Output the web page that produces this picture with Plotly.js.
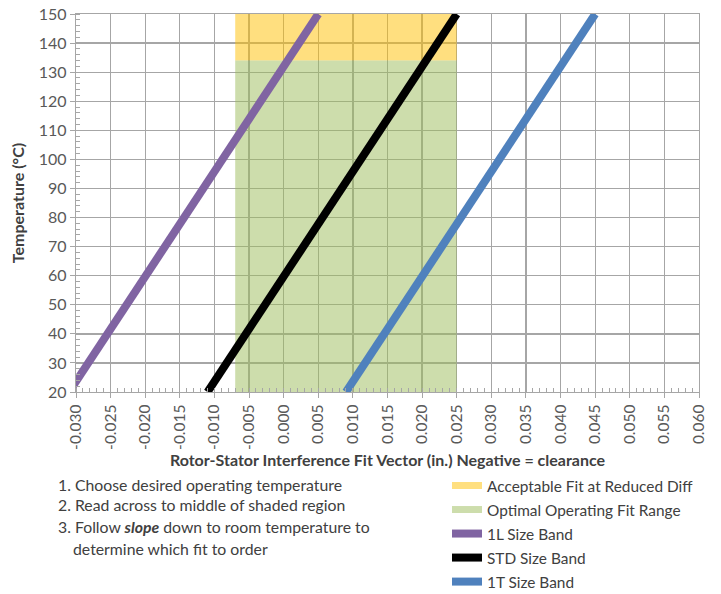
<!DOCTYPE html>
<html><head><meta charset="utf-8">
<script src="https://cdn.plot.ly/plotly-3.0.1.min.js"></script>
<style>html,body{margin:0;padding:0;background:#fff}#chart{width:721px;height:594px}</style>
</head><body><div id="chart"></div>
<script>
// Temperature end points of each size band line (°C)
const tempEnds = [20, 150];
// Fit vector (in.) at those temperatures
const fit1L = [-0.031, 0.005];
const fitSTD = [-0.011, 0.025];
const fit1T = [0.009, 0.045];
// Shaded regions
const optimalFit = [-0.007, 0.025];
const optimalTemp = [20, 134];
const acceptableTemp = [134, 150];
// Axis ticks
const xTickVals = [-0.030, -0.025, -0.020, -0.015, -0.010, -0.005, 0.000, 0.005, 0.010, 0.015, 0.020, 0.025, 0.030, 0.035, 0.040, 0.045, 0.050, 0.055, 0.060];
const xTickText = ['-0.030', '-0.025', '-0.020', '-0.015', '-0.010', '-0.005', '0.000', '0.005', '0.010', '0.015', '0.020', '0.025', '0.030', '0.035', '0.040', '0.045', '0.050', '0.055', '0.060'];
const seriesNames = ['Acceptable Fit at Reduced Diff', 'Optimal Operating Fit Range', '1L Size Band', 'STD Size Band', '1T Size Band'];
const seriesColors = ['rgba(255,192,0,0.5)', 'rgba(155,187,89,0.5)', '#8064A2', '#000000', '#4F81BD'];
const instructions = [
  '1. Choose desired operating temperature',
  '2. Read across to middle of shaded region',
  '3. Follow <b><i>slope</i></b> down to room temperature to',
  'determine which fit to order'
];

function rect(xs, ys) {
  return {x: [xs[0], xs[1], xs[1], xs[0], xs[0]], y: [ys[0], ys[0], ys[1], ys[1], ys[0]]};
}
const accRect = rect(optimalFit, acceptableTemp);
const optRect = rect(optimalFit, optimalTemp);

const FONT = 'Lato, "Open Sans", sans-serif';
const traces = [
  {x: accRect.x, y: accRect.y, type: 'scatter', mode: 'lines', fill: 'toself', fillcolor: seriesColors[0], line: {width: 0}, showlegend: false, hoverinfo: 'skip'},
  {x: optRect.x, y: optRect.y, type: 'scatter', mode: 'lines', fill: 'toself', fillcolor: seriesColors[1], line: {width: 0}, showlegend: false, hoverinfo: 'skip'},
  // legend entries for shaded regions
  {x: [null], y: [null], type: 'scatter', mode: 'lines', name: seriesNames[0], legendgroup: 'a', line: {color: seriesColors[0], width: 7}},
  {x: [null], y: [null], type: 'scatter', mode: 'lines', name: seriesNames[1], legendgroup: 'b', line: {color: seriesColors[1], width: 7}},
  {x: fit1L, y: tempEnds, type: 'scatter', mode: 'lines', name: seriesNames[2], legendgroup: 'c', line: {color: seriesColors[2], width: 8}},
  {x: fitSTD, y: tempEnds, type: 'scatter', mode: 'lines', name: seriesNames[3], legendgroup: 'd', line: {color: seriesColors[3], width: 8}},
  {x: fit1T, y: tempEnds, type: 'scatter', mode: 'lines', name: seriesNames[4], legendgroup: 'e', line: {color: seriesColors[4], width: 8}}
];

const ann = [];
const annPos = [[-0.0329, -0.2434], [-0.0329, -0.2989], [-0.0329, -0.3545], [-0.0088, -0.4127]];
instructions.forEach((t, i) => {
  ann.push({text: t, xref: 'paper', yref: 'paper', x: annPos[i][0], y: annPos[i][1], xanchor: 'left', yanchor: 'middle', showarrow: false, align: 'left', font: {family: FONT, size: 15.8, color: '#404040'}});
});

const GRID = '#a6a6a6';
const layout = {
  width: 721, height: 594,
  margin: {l: 76, r: 22, t: 14, b: 202, autoexpand: false},
  paper_bgcolor: '#fff', plot_bgcolor: '#fff',
  font: {family: FONT, size: 15, color: '#595959'},
  showlegend: true,
  legend: {x: 0.5955, xanchor: 'left', y: -0.2037, yanchor: 'top', traceorder: 'grouped', tracegroupgap: 1, font: {family: FONT, size: 15.4, color: '#404040'}, bgcolor: 'rgba(0,0,0,0)'},
  xaxis: {
    range: [-0.030, 0.060], tickmode: 'array', tickvals: xTickVals, ticktext: xTickText, tickangle: -90,
    ticks: 'outside', ticklen: 5, tickcolor: GRID, tickfont: {family: FONT, size: 15.5, color: '#595959'},
    showgrid: true, gridcolor: GRID, gridwidth: 1.3, showline: true, linecolor: GRID, linewidth: 1.3, mirror: true, zeroline: false, automargin: false,
    minor: {ticks: 'inside', tick0: 0, dtick: 0.001, ticklen: 4, tickcolor: GRID, showgrid: false},
    title: {text: '<b>Rotor-Stator Interference Fit Vector (in.) Negative = clearance</b>', font: {family: FONT, size: 16, color: '#404040'}, standoff: 5}
  },
  yaxis: {
    range: [20, 150], tick0: 0, dtick: 10,
    ticks: 'outside', ticklen: 5, tickcolor: GRID, tickfont: {family: FONT, size: 16, color: '#595959'},
    showgrid: true, gridcolor: GRID, gridwidth: 1.3, showline: true, linecolor: GRID, linewidth: 1.3, mirror: true, zeroline: false, automargin: false,
    minor: {ticks: 'inside', tick0: 0, dtick: 2, ticklen: 4, tickcolor: GRID, showgrid: false},
    title: {text: '<b>Temperature (°C)</b>', font: {family: FONT, size: 16, color: '#404040'}, standoff: 10}
  },
  annotations: ann
};
Plotly.newPlot('chart', traces, layout, {displayModeBar: false, staticPlot: true});
</script></body></html>
